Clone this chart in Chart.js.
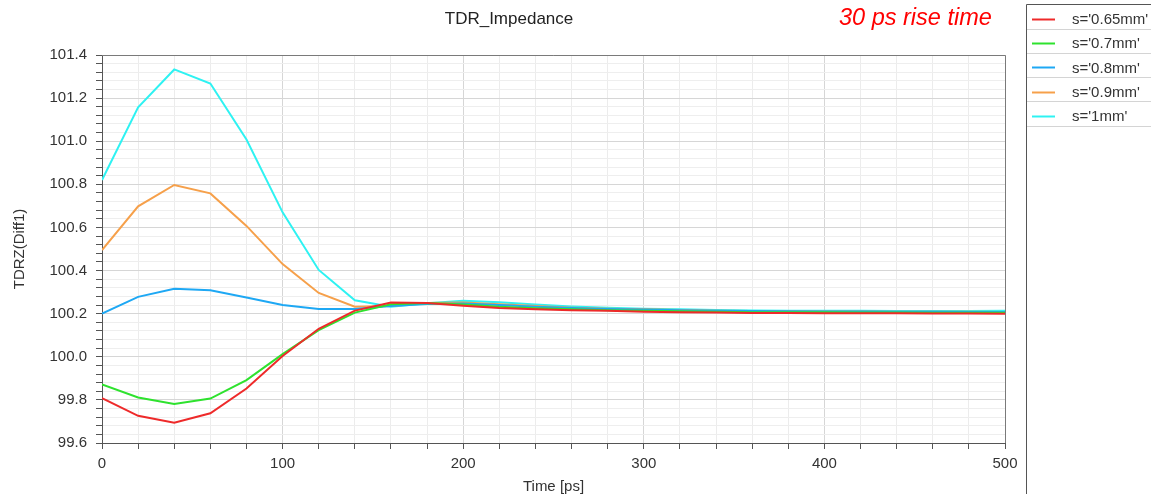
<!DOCTYPE html>
<html>
<head>
<meta charset="utf-8">
<title>TDR_Impedance</title>
<script src="https://cdn.jsdelivr.net/npm/chart.js@4.4.1/dist/chart.umd.min.js"></script>
<style>
  html, body { margin: 0; padding: 0; background: #ffffff; }
  #wrap { position: relative; width: 1151px; height: 494px; }
  canvas { display: block; }
</style>
</head>
<body>
<div id="wrap"><canvas id="tdr" width="1151" height="494"></canvas></div>
<script>
// Time axis samples (ps)
const timePs = [0, 20, 40, 60, 80, 100, 120, 140, 160, 180, 200, 220, 240, 260,
                280, 300, 320, 340, 360, 380, 400, 420, 440, 460, 480, 500];

// Series names
const seriesNames = ["s='0.65mm'", "s='0.7mm'", "s='0.8mm'", "s='0.9mm'", "s='1mm'"];

// TDR differential impedance per trace spacing (ohm)
const z065 = [99.808, 99.726, 99.694, 99.738, 99.853, 100.004, 100.130, 100.214, 100.252, 100.250,
              100.237, 100.226, 100.220, 100.216, 100.213, 100.209, 100.207, 100.205, 100.203, 100.203,
              100.202, 100.202, 100.202, 100.201, 100.201, 100.200];
const z07  = [99.872, 99.811, 99.781, 99.806, 99.892, 100.012, 100.124, 100.205, 100.244, 100.250,
              100.243, 100.232, 100.225, 100.220, 100.216, 100.213, 100.211, 100.209, 100.207, 100.206,
              100.206, 100.205, 100.205, 100.204, 100.204, 100.204];
const z08  = [100.200, 100.278, 100.316, 100.309, 100.275, 100.240, 100.222, 100.222, 100.236, 100.245,
              100.247, 100.240, 100.232, 100.226, 100.222, 100.219, 100.216, 100.214, 100.212, 100.211,
              100.210, 100.210, 100.209, 100.209, 100.208, 100.208];
const z09  = [100.495, 100.698, 100.797, 100.758, 100.607, 100.430, 100.296, 100.232, 100.236, 100.250,
              100.252, 100.244, 100.235, 100.228, 100.223, 100.220, 100.217, 100.214, 100.212, 100.211,
              100.210, 100.210, 100.209, 100.209, 100.209, 100.208];
const z10  = [100.820, 101.157, 101.333, 101.268, 101.008, 100.670, 100.403, 100.262, 100.232, 100.248,
              100.260, 100.253, 100.242, 100.233, 100.227, 100.223, 100.220, 100.217, 100.215, 100.214,
              100.213, 100.213, 100.212, 100.212, 100.212, 100.213];

// Trace colours
const seriesColors = ['#ee2a2a', '#2ee22e', '#1ea8f4', '#f6a04a', '#2ef2f2'];

// Axis ranges and label steps
const xRange = [0, 500];
const xMinorStep = 20;
const xLabelStep = 100;
const yRange = [99.6, 101.4];
const yMinorStep = 0.04;
const yLabelStep = 0.2;

const FONT = "'Liberation Sans', Arial, Helvetica, sans-serif";
const seriesValues = [z065, z07, z08, z09, z10];

function isMultiple(v, step) {
  const r = v / step;
  return Math.abs(r - Math.round(r)) < 1e-6;
}

const datasets = seriesValues.map((vals, i) => ({
  label: seriesNames[i],
  data: timePs.map((t, k) => ({ x: t, y: vals[k] })),
  borderColor: seriesColors[i],
  backgroundColor: seriesColors[i],
  borderWidth: 2,
  pointRadius: 0,
  tension: 0,
  fill: false
}));

// Plot frame, heading texts and the boxed legend at the right
const decorations = {
  id: 'decorations',
  afterDraw(chart) {
    const { ctx, chartArea: a } = chart;
    ctx.save();
    // frame (top and right edges)
    ctx.strokeStyle = '#7a7a7a';
    ctx.lineWidth = 1;
    ctx.beginPath();
    ctx.moveTo(a.left, a.top + 0.5);
    ctx.lineTo(a.right + 0.5, a.top + 0.5);
    ctx.lineTo(a.right + 0.5, a.bottom);
    ctx.stroke();

    // heading
    ctx.fillStyle = '#222222';
    ctx.font = '17px ' + FONT;
    ctx.textAlign = 'center';
    ctx.textBaseline = 'alphabetic';
    ctx.fillText('TDR_Impedance', 509, 24);

    ctx.fillStyle = '#ff0000';
    ctx.font = 'italic 23.5px ' + FONT;
    ctx.textAlign = 'left';
    ctx.fillText('30 ps rise time', 839, 25);

    // legend box
    const lx = 1026.5, ly = 4.5, rowH = 24.2;
    ctx.strokeStyle = '#555555';
    ctx.beginPath();
    ctx.moveTo(1151, ly);
    ctx.lineTo(lx, ly);
    ctx.lineTo(lx, 494);
    ctx.stroke();

    ctx.font = '15px ' + FONT;
    ctx.textBaseline = 'middle';
    chart.data.datasets.forEach((ds, i) => {
      const cy = ly + rowH * i + 14.5;
      ctx.strokeStyle = ds.borderColor;
      ctx.lineWidth = 2;
      ctx.beginPath();
      ctx.moveTo(1032, Math.round(cy) + 0.5);
      ctx.lineTo(1055, Math.round(cy) + 0.5);
      ctx.stroke();
      ctx.fillStyle = '#333333';
      ctx.fillText(ds.label, 1072, cy + 1);
      const sy = Math.round(ly + rowH * (i + 1)) + 0.5;
      ctx.strokeStyle = '#d4d4d4';
      ctx.lineWidth = 1;
      ctx.beginPath();
      ctx.moveTo(lx + 0.5, sy);
      ctx.lineTo(1151, sy);
      ctx.stroke();
    });
    ctx.restore();
  }
};

new Chart(document.getElementById('tdr'), {
  type: 'line',
  data: { datasets },
  plugins: [decorations],
  options: {
    responsive: false,
    animation: false,
    devicePixelRatio: 1,
    layout: { padding: { left: 0, right: 146, top: 55, bottom: 0 } },
    plugins: {
      legend: { display: false },
      title: { display: false },
      tooltip: { enabled: false }
    },
    scales: {
      x: {
        type: 'linear',
        min: xRange[0],
        max: xRange[1],
        afterFit(scale) { scale.height = 51; },
        ticks: {
          stepSize: xMinorStep,
          autoSkip: false,
          maxRotation: 0,
          padding: 6,
          color: '#333333',
          font: { family: FONT, size: 15 },
          callback: (v) => isMultiple(v, xLabelStep) ? String(Math.round(v)) : ''
        },
        grid: {
          color: (c) => (c.tick && isMultiple(c.tick.value, xLabelStep)) ? '#d6d6d6' : '#ececec',
          lineWidth: 1,
          tickLength: 6,
          tickColor: '#555555'
        },
        border: { display: true, color: '#555555', width: 1 },
        title: {
          display: true,
          text: 'Time [ps]',
          color: '#333333',
          font: { family: FONT, size: 15, lineHeight: 1.0 },
          padding: { top: 0, bottom: 0 }
        }
      },
      y: {
        type: 'linear',
        min: yRange[0],
        max: yRange[1],
        afterFit(scale) { scale.width = 102; },
        ticks: {
          stepSize: yMinorStep,
          autoSkip: false,
          padding: 9,
          color: '#333333',
          font: { family: FONT, size: 15 },
          callback: (v) => isMultiple(v, yLabelStep) ? v.toFixed(1) : ''
        },
        grid: {
          color: (c) => (c.tick && isMultiple(c.tick.value, yLabelStep)) ? '#d6d6d6' : '#eeeeee',
          lineWidth: 1,
          tickLength: 6,
          tickColor: '#555555'
        },
        border: { display: true, color: '#555555', width: 1 },
        title: {
          display: true,
          text: 'TDRZ(Diff1)',
          color: '#333333',
          font: { family: FONT, size: 15 },
          padding: { top: 11, bottom: 0 }
        }
      }
    }
  }
});
</script>
</body>
</html>
